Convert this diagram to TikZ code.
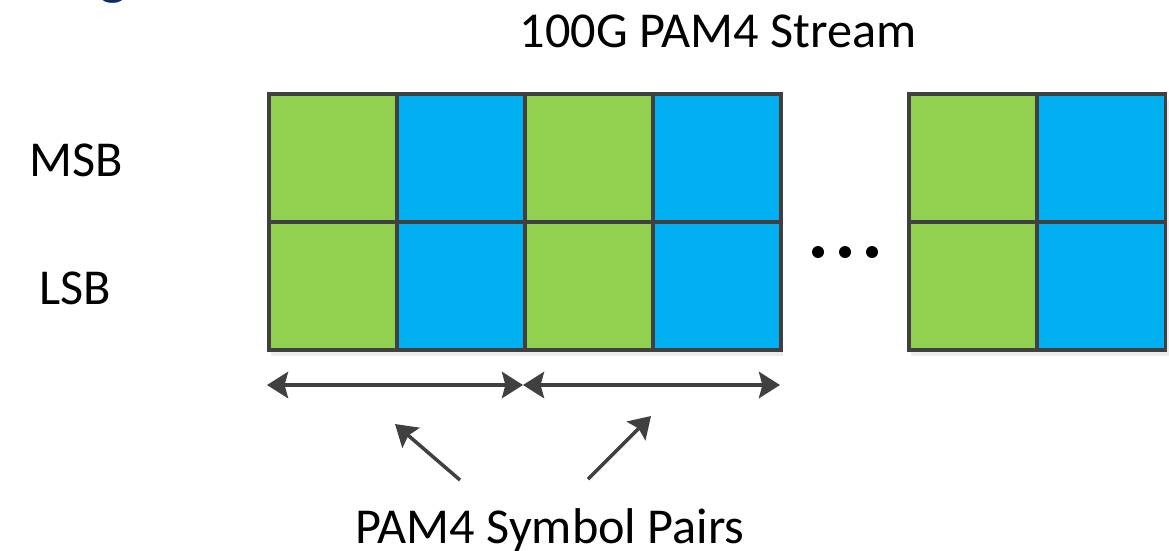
\documentclass[tikz,border=0pt]{standalone}
\usepackage{fontspec}
\setmainfont{Carlito}
\usetikzlibrary{arrows.meta,positioning,calc}
\definecolor{pamgreen}{RGB}{146,208,80}
\definecolor{pamblue}{RGB}{0,176,240}
\definecolor{gridgray}{RGB}{64,64,64}
\definecolor{headblue}{RGB}{10,45,100}

\tikzset{
    cell/.style={draw=gridgray, line width=1pt, rectangle, inner sep=0pt,
        minimum width=1.28cm, minimum height=1.28cm, anchor=south west},
    spanarrow/.style={{Stealth[length=6pt,width=7.5pt,inset=1pt]}-{Stealth[length=6pt,width=7.5pt,inset=1pt]},
        draw=gridgray, line width=1pt},
    pointer/.style={-{Stealth[length=6pt,width=7.5pt,inset=1pt]}, draw=gridgray, line width=1pt}
}

\begin{document}
\begin{tikzpicture}[font=\fontsize{14.3}{17}\selectfont]
    \useasboundingbox (0,0) rectangle (11.69,5.50);
    % cut-off slide heading
    \begin{scope}
        \clip (0,0) rectangle (11.69,5.50);
        \node[anchor=base, text=headblue, font=\fontsize{18}{20}\selectfont] (heading) at (1.13,5.58) {g};
    \end{scope}
    % faint shadows behind the blocks
    \fill[black!8] (2.71,1.94) rectangle (7.83,4.50);
    \fill[black!8] (9.11,1.94) rectangle (11.69,4.50);
    % symbol cells
    \foreach \i/\c in {1/pamgreen,2/pamblue,3/pamgreen,4/pamblue} {
        \node[cell, fill=\c] (msb\i) at ({2.67+1.28*(\i-1)},3.26) {};
        \node[cell, fill=\c] (lsb\i) at ({2.67+1.28*(\i-1)},1.98) {};
    }
    \node[cell, fill=pamgreen] (msb5) at (9.07,3.26) {};
    \node[cell, fill=pamgreen] (lsb5) at (9.07,1.98) {};
    \node[cell, fill=pamblue, minimum width=1.285cm] (msb6) at (10.35,3.26) {};
    \node[cell, fill=pamblue, minimum width=1.285cm] (lsb6) at (10.35,1.98) {};
    \foreach \x in {8.18,8.45,8.72}
        \fill (\x,2.98) circle (0.06);
    % labels
    \node[anchor=base] (title) at (7.18,5.03) {100G PAM4 Stream};
    \node[anchor=base] (msb) at (0.765,3.74) {MSB};
    \node[anchor=base] (lsb) at (0.755,2.46) {LSB};
    \node[anchor=base] (pairs) at (5.50,0.07) {PAM4 Symbol Pairs};
    % pair spans
    \coordinate (span0) at (2.67,1.65);
    \coordinate (span1) at (5.23,1.65);
    \coordinate (span2) at (7.80,1.65);
    \draw[spanarrow] (span0) -- (span1);
    \draw[spanarrow] (span1) -- (span2);
    \coordinate (tail1) at (4.60,0.70);
    \coordinate (tail2) at (5.88,0.71);
    \coordinate (tip1) at (3.95,1.26);
    \coordinate (tip2) at (6.51,1.34);
    \draw[pointer] (tail1) -- (tip1);
    \draw[pointer] (tail2) -- (tip2);
\end{tikzpicture}
\end{document}
